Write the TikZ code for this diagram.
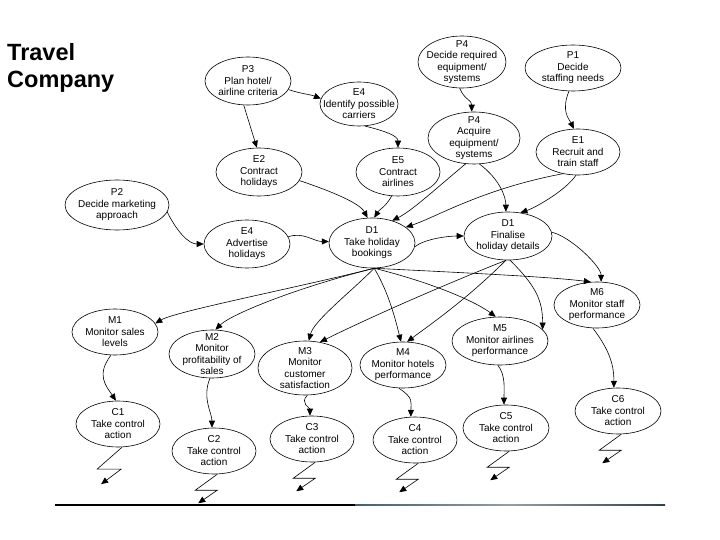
\documentclass[tikz,border=0pt]{standalone}
\usepackage{fontspec}
\setmainfont{Liberation Sans}
\usetikzlibrary{shapes.geometric,arrows.meta}
\definecolor{slateline}{RGB}{70,95,110}
\newcommand\EL[6]{%
  \node[ell,minimum width=#4pt,minimum height=#5pt] (#1) at (#2,#3) {};
  \node[txt] (#1t) at (#2,#3) {#6};}
\newcommand\BOLT[1]{%
  \draw[arr] (#1.-82) -- ++(-22,16) -- ++(22,0) -- ++(-19,13);}
\begin{document}
\begin{tikzpicture}[x=1pt,y=-1pt,
  ell/.style={draw, ellipse, line width=0.6pt, inner sep=0pt},
  txt/.style={align=center, font=\fontsize{10}{11.5}\selectfont, inner sep=0pt},
  arr/.style={draw, line width=0.6pt, -{Triangle[length=7pt,width=6pt]}},
]
\useasboundingbox (0,0) rectangle (720,540);
\fill[white] (0,0) rectangle (720,540);

\node[anchor=north west, align=left, inner sep=0pt,
      font=\fontsize{23.5}{27}\selectfont\bfseries] (title) at (7,43) {Travel\\Company};

\EL{P3}{248}{81}{86}{48}{P3\\Plan hotel/\\airline criteria}
\EL{E4id}{359}{104}{78}{44}{E4\\Identify possible\\carriers}
\EL{P4d}{462}{62}{88}{52}{P4\\Decide required\\equipment/\\systems}
\EL{P1}{573}{68}{96}{46}{P1\\Decide\\staffing needs}
\EL{P4a}{474}{138}{92}{52}{P4\\Acquire\\equipment/\\systems}
\EL{E1}{578}{152}{84}{46}{E1\\Recruit and\\train staff}
\EL{E2}{259}{172}{86}{48}{E2\\Contract\\holidays}
\EL{E5}{398}{172}{84}{48}{E5\\Contract\\airlines}
\EL{P2}{117}{205}{104}{50}{P2\\Decide marketing\\approach}
\EL{E4a}{247}{244}{86}{48}{E4\\Advertise\\holidays}
\EL{D1t}{372}{243}{86}{50}{D1\\Take holiday\\bookings}
\EL{D1f}{508}{236}{88}{48}{D1\\Finalise\\holiday details}
\EL{M6}{597}{305}{86}{46}{M6\\Monitor staff\\performance}
\EL{M1}{115}{332}{86}{46}{M1\\Monitor sales\\levels}
\EL{M2}{212}{354}{86}{48}{M2\\Monitor\\profitability of\\sales}
\EL{M3}{305}{368}{94}{54}{M3\\Monitor\\customer\\satisfaction}
\EL{M4}{403}{365}{86}{46}{M4\\Monitor hotels\\performance}
\EL{M5}{500}{341}{96}{48}{M5\\Monitor airlines\\performance}
\EL{C1}{118}{424}{84}{46}{C1\\Take control\\action}
\EL{C2}{214}{451}{84}{46}{C2\\Take control\\action}
\EL{C3}{312}{439}{84}{46}{C3\\Take control\\action}
\EL{C4}{415}{440}{84}{46}{C4\\Take control\\action}
\EL{C5}{506}{428}{86}{46}{C5\\Take control\\action}
\EL{C6}{618}{411}{86}{46}{C6\\Take control\\action}

% planning / execution
\draw[arr] (P3.-12) .. controls +(12,4) and +(-10,-4) .. (E4id.172);
\draw[arr] (P3.-100) -- (E2.95);
\draw[arr] (E4id.-75) .. controls +(20,5) and +(0,-12) .. (E5.90);
\draw[arr] (P4d.-95) .. controls +(5,12) and +(0,-12) .. (P4a.95);
\draw[arr] (P1.-100) .. controls +(-8,20) and +(-5,-10) .. (E1.100);
\draw[arr] (E2.-12) .. controls +(30,10) and +(-8,-15) .. (D1t.100);
\draw[arr] (E5.-105) .. controls +(-5,10) and +(5,-8) .. (D1t.85);
\draw[arr] (P4a.-108) .. controls +(-30,25) and +(20,-10) .. (D1t.48);
\draw[arr] (E1.-125) .. controls +(-80,15) and +(30,-10) .. (D1t.25);
\draw[arr] (P4a.-78) .. controls +(20,15) and +(0,-15) .. (D1f.95);
\draw[arr] (E1.-95) .. controls +(-10,15) and +(15,-5) .. (D1f.62);
\draw[arr] (P2.-8) .. controls +(10,20) and +(-15,0) .. (E4a.180);
\draw[arr] (E4a.10) .. controls +(15,-5) and +(-15,0) .. (D1t.178);
\draw[arr] (D1t.-5) .. controls +(10,-8) and +(-15,0) .. (D1f.180);
\draw[arr] (D1f.5) .. controls +(20,5) and +(0,-15) .. (M6.80);

% monitoring
\draw[arr] (D1t.-85) .. controls +(100,5) and +(-40,-5) .. (M6.105);
\draw[arr] (D1t.-85) .. controls +(-80,20) and +(20,-12) .. (M1.12);
\draw[arr] (D1t.-85) .. controls +(-80,20) and +(15,-15) .. (M2.82);
\draw[arr] (D1t.-85) .. controls +(-25,25) and +(5,-20) .. (M3.82);
\draw[arr] (D1t.-85) .. controls +(15,25) and +(-5,-20) .. (M4.95);
\draw[arr] (D1t.-85) .. controls +(60,15) and +(-20,-15) .. (M5.100);
\draw[arr] (D1f.-95) .. controls +(-100,40) and +(20,-10) .. (M3.60);
\draw[arr] (D1f.-95) .. controls +(-40,40) and +(20,-15) .. (M4.80);
\draw[arr] (D1f.-85) .. controls +(25,25) and +(0,-30) .. (M5.15);

% control
\draw[arr] (M1.-100) .. controls +(-15,20) and +(-10,-15) .. (C1.95);
\draw[arr] (M2.-95) .. controls +(-8,20) and +(0,-15) .. (C2.95);
\draw[arr] (M3.-85) .. controls +(-8,8) and +(0,-8) .. (C3.95);
\draw[arr] (M4.-100) .. controls +(15,10) and +(0,-15) .. (C4.100);
\draw[arr] (M5.-95) .. controls +(8,10) and +(0,-15) .. (C5.95);
\draw[arr] (M6.-100) .. controls +(15,20) and +(0,-25) .. (C6.100);

\draw[arr] (C1.-80) -- ++(-25,22) -- ++(24,0) -- ++(-20,15);
\BOLT{C2}\BOLT{C3}\BOLT{C4}\BOLT{C5}\BOLT{C6}

% bottom rule
\draw[line width=1.2pt, black] (55,505) -- (355,505);
\shade[left color=slateline, right color=slateline!70!black, middle color=slateline!60!white]
  (355,504.4) rectangle (665,505.6);
\end{tikzpicture}
\end{document}
